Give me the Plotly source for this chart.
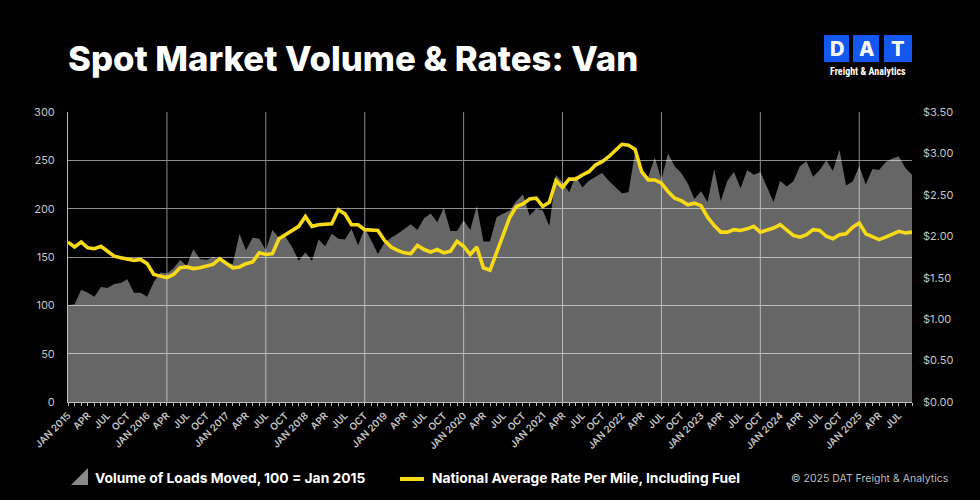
import plotly.graph_objects as go

# ---------------- data ----------------
month_index = list(range(129))  # Jan 2015 .. Sep 2025

volume = [
    100, 101, 116, 113, 109, 119, 118, 122, 123, 127, 113, 113,   # 2015
    109, 124, 134, 133, 138, 147, 141, 158, 148, 147, 150, 147,   # 2016
    143, 143, 174, 157, 170, 169, 157, 178, 170, 171, 160, 146,   # 2017
    155, 146, 168, 161, 174, 169, 168, 179, 162, 180, 167, 153,   # 2018
    165, 170, 174, 179, 184, 178, 190, 195, 186, 201, 177, 177,   # 2019
    188, 178, 203, 166, 166, 191, 195, 198, 208, 215, 193, 200,   # 2020
    198, 182, 235, 227, 217, 234, 222, 229, 233, 237, 229, 223,   # 2021
    216, 217, 258, 237, 233, 253, 230, 257, 244, 237, 226, 210,   # 2022
    218, 207, 241, 208, 229, 238, 221, 240, 235, 238, 223, 207,   # 2023
    229, 223, 228, 244, 249, 233, 240, 250, 239, 261, 224, 228,   # 2024
    244, 225, 241, 240, 248, 252, 254, 242, 235,                  # 2025
]

rate = [
    1.93, 1.87, 1.93, 1.86, 1.85, 1.88, 1.82, 1.76, 1.74, 1.72, 1.71, 1.72,
    1.67, 1.54, 1.52, 1.50, 1.54, 1.62, 1.63, 1.61, 1.62, 1.64, 1.66, 1.73,
    1.67, 1.62, 1.63, 1.67, 1.69, 1.80, 1.78, 1.79, 1.97, 2.02, 2.07, 2.12,
    2.24, 2.12, 2.14, 2.15, 2.15, 2.32, 2.27, 2.14, 2.14, 2.08, 2.08, 2.07,
    1.95, 1.87, 1.83, 1.80, 1.79, 1.89, 1.84, 1.81, 1.84, 1.80, 1.82, 1.94,
    1.88, 1.78, 1.87, 1.62, 1.59, 1.80, 2.03, 2.23, 2.36, 2.39, 2.45, 2.46,
    2.36, 2.41, 2.67, 2.59, 2.69, 2.69, 2.74, 2.78, 2.86, 2.90, 2.96, 3.03,
    3.11, 3.10, 3.05, 2.78, 2.68, 2.68, 2.64, 2.54, 2.46, 2.43, 2.38, 2.40,
    2.37, 2.23, 2.13, 2.05, 2.05, 2.08, 2.07, 2.09, 2.12, 2.05, 2.07, 2.10,
    2.14, 2.07, 2.01, 1.99, 2.02, 2.08, 2.07, 2.00, 1.97, 2.02, 2.03, 2.11,
    2.16, 2.03, 2.00, 1.96, 1.99, 2.03, 2.06, 2.04, 2.05,
]

tick_positions = list(range(0, 129, 3))
tick_labels = [
    "JAN 2015", "APR", "JUL", "OCT",
    "JAN 2016", "APR", "JUL", "OCT",
    "JAN 2017", "APR", "JUL", "OCT",
    "JAN 2018", "APR", "JUL", "OCT",
    "JAN 2019", "APR", "JUL", "OCT",
    "JAN 2020", "APR", "JUL", "OCT",
    "JAN 2021", "APR", "JUL", "OCT",
    "JAN 2022", "APR", "JUL", "OCT",
    "JAN 2023", "APR", "JUL", "OCT",
    "JAN 2024", "APR", "JUL", "OCT",
    "JAN 2025", "APR", "JUL",
]
vertical_grid_positions = [15, 30, 45, 60, 75, 90, 105, 120]

left_ticks = [0, 50, 100, 150, 200, 250, 300]
right_ticks = [0, 0.5, 1.0, 1.5, 2.0, 2.5, 3.0, 3.5]

volume_name = "Volume of Loads Moved, 100 = Jan 2015"
rate_name = "National Average Rate Per Mile, Including Fuel"
title_text = "Spot Market Volume & Rates: Van"

# ---------------- layout helpers ----------------
W, H = 980, 500
L, R, T, B = 68, 68, 112, 98
PW, PH = W - L - R, H - T - B


def px(x):
    return (x - L) / PW


def py(y):
    return (H - B - y) / PH


FONT = "Inter, Roboto, 'DejaVu Sans', sans-serif"
GRID = "#8c8c8c"
TICK = "#c4c4c4"
YELLOW = "#F6D917"

fig = go.Figure()

fig.add_trace(go.Scatter(
    x=month_index, y=volume, mode="lines", fill="tozeroy",
    line=dict(width=0, color="rgba(0,0,0,0)"),
    fillcolor="rgba(255,255,255,0.40)",
    name=volume_name, showlegend=False, hoverinfo="skip",
))
fig.add_trace(go.Scatter(
    x=month_index, y=rate, mode="lines", yaxis="y2",
    line=dict(width=3.6, color=YELLOW),
    name=rate_name, showlegend=False,
))

shapes = []
for gx in vertical_grid_positions:
    shapes.append(dict(type="line", xref="x", yref="paper", x0=gx, x1=gx, y0=0, y1=1,
                       line=dict(color=GRID, width=1), layer="below"))

# legend icons
shapes.append(dict(type="path", xref="paper", yref="paper",
                   path=f"M {px(71)} {py(485)} L {px(88)} {py(485)} L {px(88)} {py(468)} Z",
                   fillcolor="#8a8a8a", line=dict(width=0)))
shapes.append(dict(type="line", xref="paper", yref="paper",
                   x0=px(400), x1=px(424), y0=py(479), y1=py(479),
                   line=dict(color=YELLOW, width=4)))

# DAT logo boxes
for x0, x1 in [(824, 849), (853, 879), (884, 912)]:
    shapes.append(dict(type="rect", xref="paper", yref="paper",
                       x0=px(x0), x1=px(x1), y0=py(62), y1=py(35),
                       fillcolor="#1458F0", line=dict(width=0)))

annotations = [
    dict(text=title_text, xref="paper", yref="paper", x=px(66), y=py(58),
         xanchor="left", yanchor="middle", showarrow=False,
         font=dict(family=FONT, size=34.7, color="white", weight=800)),
    dict(text=f"<b>{volume_name}</b>", xref="paper", yref="paper", x=px(93), y=py(478),
         xanchor="left", yanchor="middle", showarrow=False,
         font=dict(family=FONT, size=13.8, color="white")),
    dict(text=f"<b>{rate_name}</b>", xref="paper", yref="paper", x=px(430), y=py(478),
         xanchor="left", yanchor="middle", showarrow=False,
         font=dict(family=FONT, size=13.8, color="white")),
    dict(text="© 2025 DAT Freight & Analytics", xref="paper", yref="paper", x=px(951), y=py(478),
         xanchor="right", yanchor="middle", showarrow=False,
         font=dict(family=FONT, size=10.5, color="#bdbdbd")),
    dict(text="<b>Freight & Analytics</b>", xref="paper", yref="paper", x=px(868), y=py(71),
         xanchor="center", yanchor="middle", showarrow=False,
         font=dict(family="'Roboto Condensed', Roboto, sans-serif", size=10, color="white")),
]
for cx, letter in [(836.5, "D"), (866, "A"), (898, "T")]:
    annotations.append(dict(text=letter, xref="paper", yref="paper", x=px(cx), y=py(49),
                            xanchor="center", yanchor="middle", showarrow=False,
                            font=dict(family=FONT, size=20, color="white", weight=800)))

fig.update_layout(
    width=W, height=H,
    margin=dict(l=L, r=R, t=T, b=B, pad=0),
    paper_bgcolor="black", plot_bgcolor="black",
    showlegend=False,
    shapes=shapes, annotations=annotations,
    xaxis=dict(
        range=[0, 128], tickmode="array", tickvals=tick_positions, ticktext=tick_labels,
        tickangle=-45, showgrid=False, zeroline=False,
        showline=True, linecolor="#bdbdbd", linewidth=1,
        ticks="outside", ticklen=3, tickcolor="#bdbdbd",
        minor=dict(tickmode="linear", tick0=0, dtick=1, ticks="outside", ticklen=3, tickcolor="#bdbdbd"),
        tickfont=dict(family=FONT, size=9.8, color=TICK, weight=600),
        fixedrange=True,
    ),
    yaxis=dict(
        range=[0, 300], tickmode="array", tickvals=left_ticks,
        showgrid=True, gridcolor=GRID, gridwidth=1, zeroline=False,
        showline=True, linecolor="#bdbdbd", linewidth=1,
        ticks="", ticklabelstandoff=10,
        tickfont=dict(family=FONT, size=11, color=TICK),
    ),
    yaxis2=dict(
        range=[0, 3.5], overlaying="y", side="right", tickmode="array", tickvals=right_ticks,
        tickformat="$.2f", showgrid=False, zeroline=False, showline=False,
        ticks="", ticklabelstandoff=10,
        tickfont=dict(family=FONT, size=11, color=TICK),
    ),
)

fig.write_html(
    "out.html",
    config={"displayModeBar": False},
    post_script="document.body.style.margin='0';document.body.style.background='black';",
)
